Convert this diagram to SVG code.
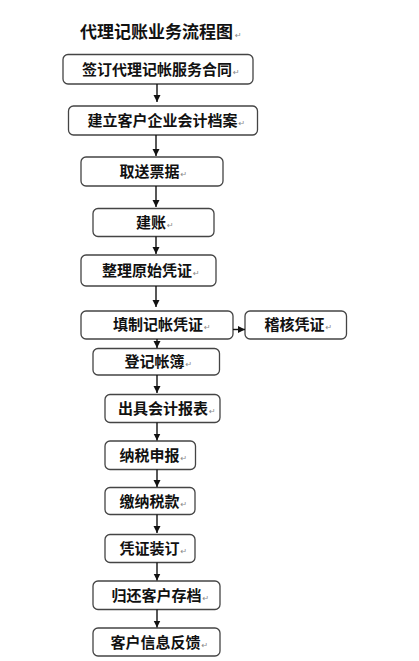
<svg xmlns="http://www.w3.org/2000/svg" width="419" height="661" viewBox="0 0 419 661">
<style>
.box{fill:#fff;stroke:#444;stroke-width:1.3}
.t{font-family:"Noto Sans CJK SC","Noto Sans CJK JP",sans-serif;font-weight:bold;font-size:15px;fill:#111}
.r{font-family:"DejaVu Sans",sans-serif;font-weight:normal;font-size:8px;fill:#888}
.c{stroke:#111;stroke-width:1.4;fill:none;marker-end:url(#ah)}
</style>
<defs>
<marker id="ah" markerWidth="8" markerHeight="8" refX="7" refY="4" orient="auto" markerUnits="userSpaceOnUse">
<path d="M0,0.5 L7,4 L0,7.5 Z" fill="#111"/>
</marker>
</defs>
<rect width="419" height="661" fill="#fff"/>
<text class="t" x="80" y="38" style="font-size:17px">代理记账业务流程图<tspan class="r" dx="2">↵</tspan></text>
<g id="n1"><rect class="box" x="63" y="54.5" width="190" height="29.5" rx="5"/><text class="t" x="82" y="75">签订代理记帐服务合同<tspan class="r" dx="1">↵</tspan></text></g>
<g id="n2"><rect class="box" x="68.5" y="106" width="189" height="29" rx="5"/><text class="t" x="87.5" y="126">建立客户企业会计档案<tspan class="r" dx="1">↵</tspan></text></g>
<g id="n3"><rect class="box" x="81" y="157" width="142" height="29" rx="5"/><text class="t" x="119.5" y="177">取送票据<tspan class="r" dx="1">↵</tspan></text></g>
<g id="n4"><rect class="box" x="93" y="208.5" width="121" height="28" rx="5"/><text class="t" x="136" y="228">建账<tspan class="r" dx="1">↵</tspan></text></g>
<g id="n5"><rect class="box" x="81" y="255" width="135" height="31" rx="5"/><text class="t" x="102" y="276">整理原始凭证<tspan class="r" dx="1">↵</tspan></text></g>
<g id="n6"><rect class="box" x="81" y="311" width="152" height="28" rx="5"/><text class="t" x="113" y="330">填制记帐凭证<tspan class="r" dx="1">↵</tspan></text></g>
<g id="n7"><rect class="box" x="245" y="311" width="101.5" height="28" rx="5"/><text class="t" x="264.5" y="330">稽核凭证<tspan class="r" dx="1">↵</tspan></text></g>
<g id="n8"><rect class="box" x="93" y="348.5" width="126.5" height="26.5" rx="5"/><text class="t" x="124.5" y="367">登记帐簿<tspan class="r" dx="1">↵</tspan></text></g>
<g id="n9"><rect class="box" x="105" y="394.5" width="115" height="28" rx="5"/><text class="t" x="118" y="414">出具会计报表<tspan class="r" dx="1">↵</tspan></text></g>
<g id="n10"><rect class="box" x="105" y="441" width="90.5" height="28.5" rx="5"/><text class="t" x="119.5" y="461">纳税申报<tspan class="r" dx="1">↵</tspan></text></g>
<g id="n11"><rect class="box" x="105" y="487.5" width="90" height="27" rx="5"/><text class="t" x="119.5" y="506.5">缴纳税款<tspan class="r" dx="1">↵</tspan></text></g>
<g id="n12"><rect class="box" x="105" y="534.5" width="90" height="28" rx="5"/><text class="t" x="119.5" y="554">凭证装订<tspan class="r" dx="1">↵</tspan></text></g>
<g id="n13"><rect class="box" x="93" y="581" width="127" height="28.5" rx="5"/><text class="t" x="111.5" y="601">归还客户存档<tspan class="r" dx="1">↵</tspan></text></g>
<g id="n14"><rect class="box" x="93" y="628" width="127" height="28" rx="5"/><text class="t" x="110.5" y="647.5">客户信息反馈<tspan class="r" dx="1">↵</tspan></text></g>
<g id="connectors">
<line class="c" x1="157" y1="84" x2="157" y2="102"/>
<line class="c" x1="156" y1="135" x2="156" y2="156"/>
<line class="c" x1="156" y1="186" x2="156" y2="207"/>
<line class="c" x1="156" y1="236.5" x2="156" y2="254"/>
<line class="c" x1="156" y1="286" x2="156" y2="307"/>
<line class="c" x1="233" y1="329.5" x2="245" y2="329.5"/>
<line class="c" x1="157" y1="339" x2="157" y2="348"/>
<line class="c" x1="157" y1="375" x2="157" y2="393"/>
<line class="c" x1="157" y1="422.5" x2="157" y2="440.5"/>
<line class="c" x1="157" y1="469.5" x2="157" y2="487"/>
<line class="c" x1="157" y1="514.5" x2="157" y2="533"/>
<line class="c" x1="157" y1="562.5" x2="157" y2="580.5"/>
<line class="c" x1="157" y1="609.5" x2="157" y2="627.5"/>
</g>
</svg>
